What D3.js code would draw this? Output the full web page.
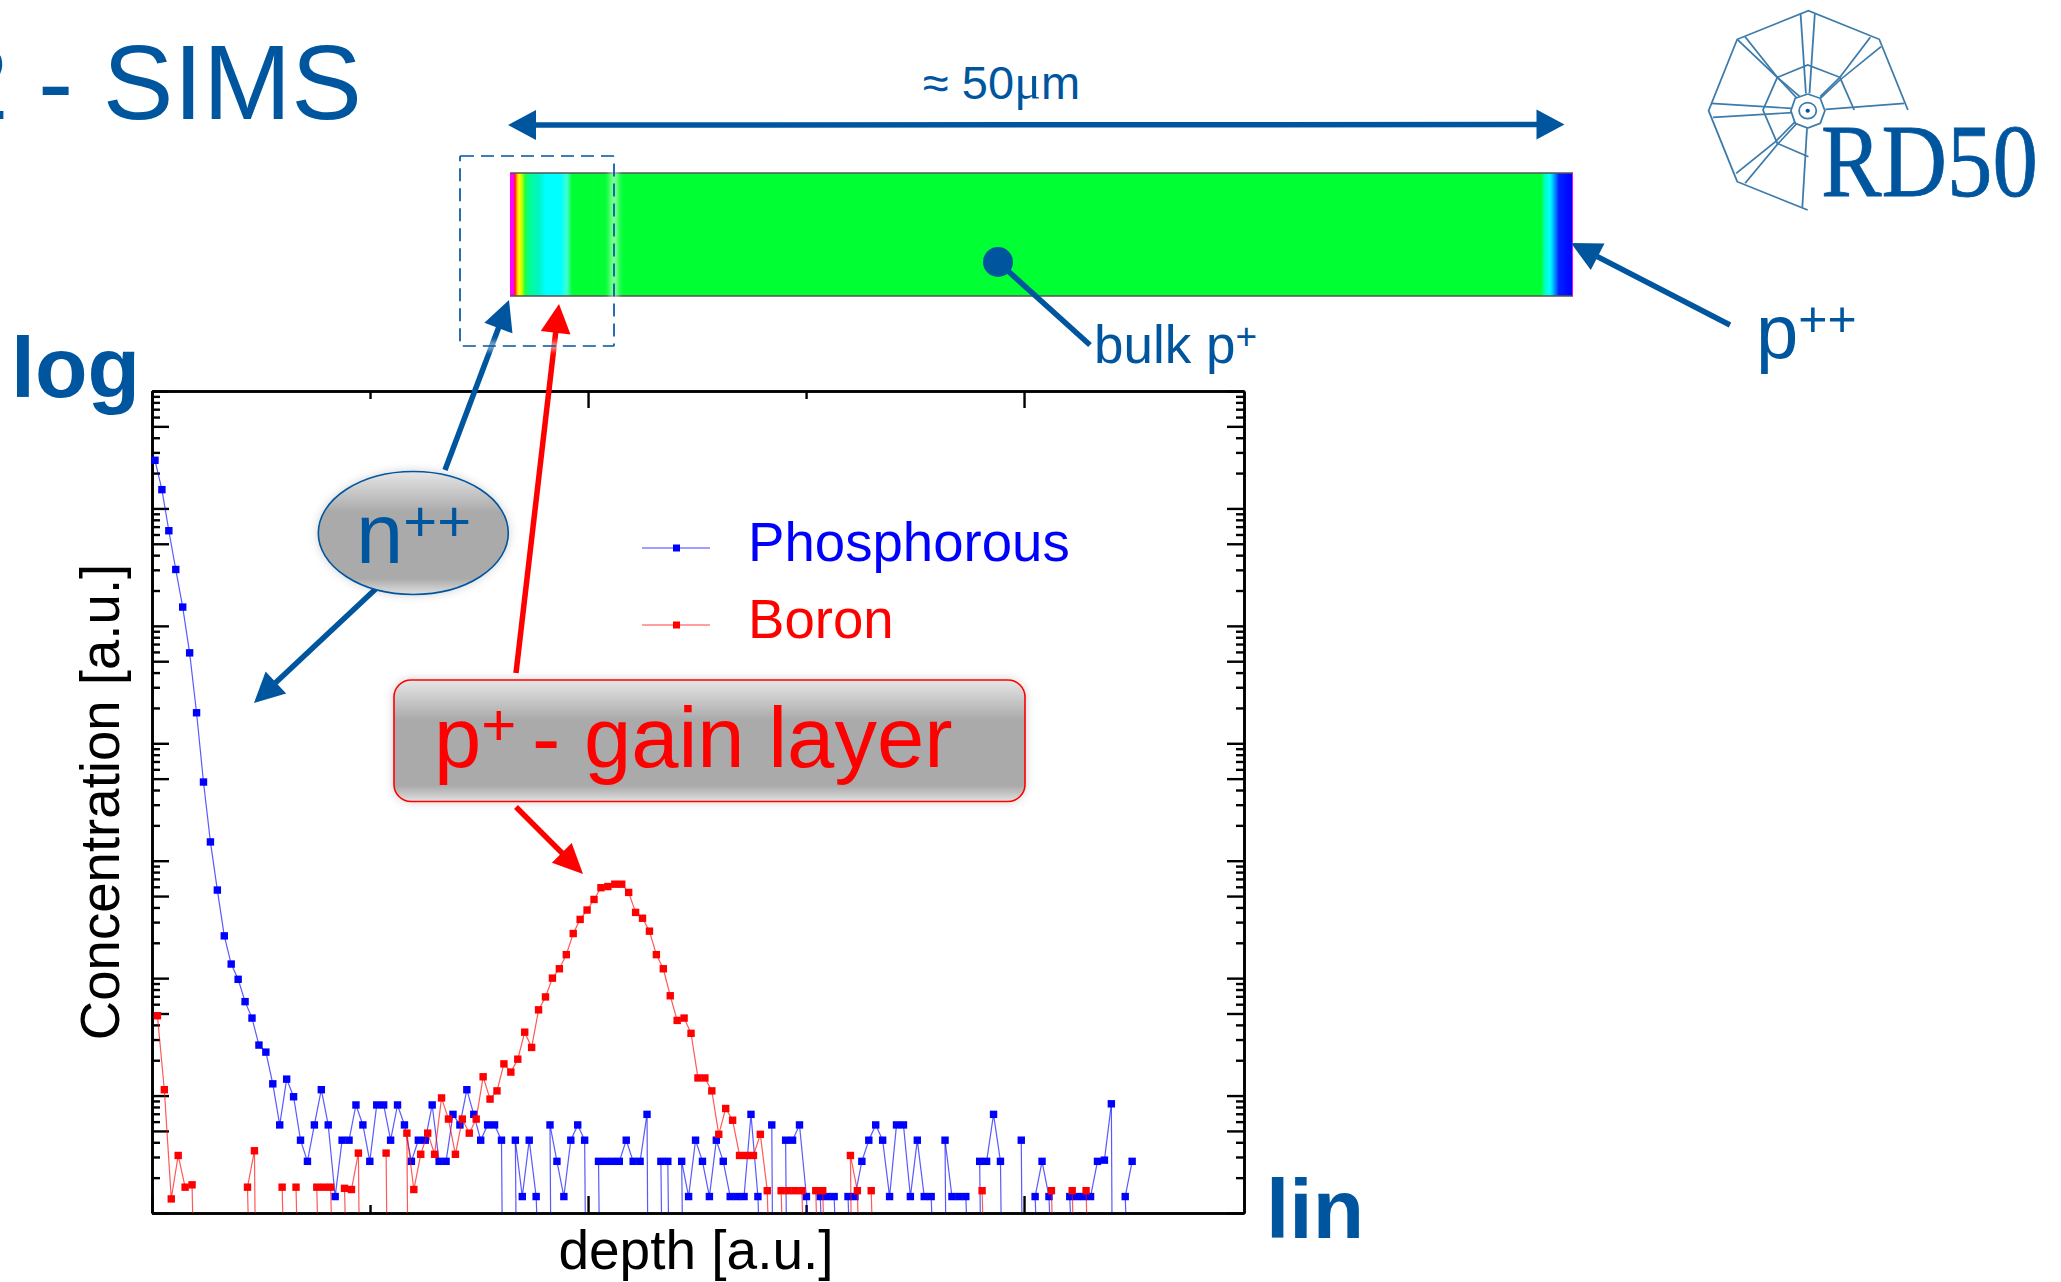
<!DOCTYPE html>
<html><head><meta charset="utf-8">
<script src="https://cdn.jsdelivr.net/npm/d3@7"></script>
<style>
html,body{margin:0;padding:0;background:#fff;overflow:hidden}
svg{display:block}
text{font-family:"Liberation Sans",Arial,sans-serif}
</style></head><body>
<svg id="c" width="2061" height="1282"></svg>
<script>
// log10 of concentration, one entry per depth step; null = below the axis (zero counts)
const phosphorousLog = [6.41,6.16,5.81,5.48,5.16,4.77,4.26,3.67,3.16,2.75,2.36,2.12,1.99,1.80,1.66,1.43,1.37,1.10,.75,1.14,
 .99,.62,.44,.75,1.05,.75,.14,.62,.62,.92,.75,.44,.92,.92,.62,.92,.75,.44,.62,.62,
 .92,.44,.44,.84,.75,1.05,.84,.62,.75,.75,.62,null,.62,.14,.62,.14,null,.75,.44,.14,
 .62,.75,.62,null,.44,.44,.44,.44,.62,.44,.44,.84,null,.44,.44,null,.44,.14,.62,.44,
 .14,.62,.44,.14,.14,.14,.84,.14,null,.75,null,.62,.62,.75,.14,null,.14,.14,.14,null,
 .14,.14,.44,.62,.75,.62,.14,.75,.75,.14,.62,.14,.14,null,.62,.14,.14,.14,null,.44,
 .44,.84,.44,null,null,.62,null,.14,.44,.14,null,null,.14,.14,.14,.14,.44,.45,.93,null,.14,.44];
const boronLog = [1.68,1.05,.12,.49,.22,.24,null,null,null,null,null,null,null,.22,.53,null,null,null,.22,null,
 .22,null,null,.22,.22,.22,null,.21,.20,.51,null,null,null,.51,null,null,.68,.20,.50,.68,
 .50,.98,.80,.50,.80,.68,.80,1.16,.97,1.04,1.27,1.20,1.31,1.54,1.41,1.73,1.84,2.00,2.08,2.20,
 2.38,2.50,2.58,2.67,2.77,2.78,2.80,2.80,2.73,2.56,2.51,2.40,2.20,2.08,1.85,1.64,1.66,1.53,1.15,1.15,
 1.04,.67,.89,.79,.49,.49,.49,.67,.19,null,.19,.19,.19,.19,null,.19,.19,null,null,null,
 .49,.19,null,.19,null,null,null,null,null,null,null,null,null,null,null,null,null,null,null,.19,
 null,null,null,null,null,null,null,null,null,.19,null,null,.19,null,.19];
const boronDepthShift = 0.35;
const seriesNames = ["Phosphorous","Boron"];
const seriesColors = ["#0000ff","#ff0000"];
const decades = [1,10,100,1e3,1e4,1e5,1e6,1e7];
const minorMult = [2,3,4,6,7,8,9];
const xMajorTicks = [-0.43,62.49,125.4];
const xMinorTicks = [31.03,93.95];
const xLabel = "depth [a.u.]";
const yLabel = "Concentration [a.u.]";

const BLUE="#00559f", RED="#ff0000";
const svg=d3.select("#c");
const defs=svg.append("defs");
function grad(id,stops){const g=defs.append("linearGradient").attr("id",id).attr("x1",0).attr("y1",0).attr("x2",0).attr("y2",1);
 stops.forEach(s=>g.append("stop").attr("offset",s[0]).attr("stop-color",s[1]));}
grad("gb",[[0,"#e6e6e6"],[.33,"#aaaaaa"],[.87,"#aaaaaa"],[1,"#e0e0e0"]]);
const BL=510,BR=1573;
const bar=defs.append("linearGradient").attr("id","bar").attr("gradientUnits","userSpaceOnUse").attr("x1",BL).attr("x2",BR).attr("y1",0).attr("y2",0);
[[510,"#ff00ff"],[513.5,"#ff00ff"],[515,"#ff2000"],[517,"#ffb000"],[519,"#ffff00"],[522,"#c0ff00"],[525,"#20ff40"],[530,"#00ff99"],[538,"#00f5c0"],[546,"#00ffff"],[561,"#00ffff"],[567,"#40ffd0"],[572,"#00ff33"],[1541,"#00ff33"],[1545,"#00ffc0"],[1550,"#00ffff"],[1553,"#00c0ff"],[1559,"#0020ff"],[1571.5,"#0000ff"],[1572.3,"#ff00ff"],[1573,"#ff00ff"]]
 .forEach(s=>bar.append("stop").attr("offset",(s[0]-BL)/(BR-BL)).attr("stop-color",s[1]));
const sh=defs.append("filter").attr("id","sh").attr("x","-10%").attr("y","-15%").attr("width","120%").attr("height","130%");
sh.append("feDropShadow").attr("dx",0).attr("dy",0).attr("stdDeviation",5).attr("flood-color","#000").attr("flood-opacity",.18);
const bl=defs.append("filter").attr("id","bl").attr("x","-10%").attr("y","-10%").attr("width","120%").attr("height","120%");
bl.append("feGaussianBlur").attr("stdDeviation",2.5);

function txt(x,y,s,size,col,o={}){const t=svg.append("text").attr("x",x).attr("y",y).attr("font-size",size).attr("fill",col).text(s);
 if(o.bold)t.attr("font-weight","bold"); if(o.anchor)t.attr("text-anchor",o.anchor);
 if(o.family)t.style("font-family",o.family); return t;}
function sup(t,s,size,rise){t.append("tspan").attr("font-size",size).attr("dy",-rise).text(s);return t;}

// ---- plot
const L=152,R=1244,T=391,B=1213;
const x=d3.scaleLinear().domain([-0.43,157.14]).range([L,R]);
const y=d3.scaleLog().domain([1,1e7]).range([B,T]);
const plot=svg.append("g");

const longY=[],shortY=[];
decades.forEach(d=>{longY.push(d); if(d<1e7){longY.push(d*5); minorMult.forEach(m=>shortY.push(d*m));}});
function axisStyle(g){g.selectAll("text").remove();g.selectAll("path.domain").attr("stroke","#000").attr("stroke-width",2.6);g.selectAll(".tick line").attr("stroke","#000").attr("stroke-width",2.4);}
const none=()=>"";
[[d3.axisRight,L,1],[d3.axisLeft,R,1]].forEach(([ax,px])=>{
 plot.append("g").attr("transform",`translate(${px},0)`).call(ax(y).tickValues(longY).tickSizeInner(17).tickSizeOuter(0).tickFormat(none)).call(axisStyle);
 plot.append("g").attr("transform",`translate(${px},0)`).call(ax(y).tickValues(shortY).tickSizeInner(8).tickSizeOuter(0).tickFormat(none)).call(axisStyle);
});
[[d3.axisTop,B],[d3.axisBottom,T]].forEach(([ax,py])=>{
 plot.append("g").attr("transform",`translate(0,${py})`).call(ax(x).tickValues(xMajorTicks).tickSizeInner(17).tickSizeOuter(0).tickFormat(none)).call(axisStyle);
 plot.append("g").attr("transform",`translate(0,${py})`).call(ax(x).tickValues(xMinorTicks).tickSizeInner(8).tickSizeOuter(0).tickFormat(none)).call(axisStyle);
});

function series(logs,shift,color){
 const data=logs.map((l,i)=>({d:i+shift,v:l===null?null:Math.pow(10,l),prev:i>0&&logs[i-1]!==null,next:i<logs.length-1&&logs[i+1]!==null,first:i===0,last:i===logs.length-1}));
 const line=d3.line().defined(p=>p.v!==null).x(p=>x(p.d)).y(p=>y(p.v));
 const g=plot.append("g");
 g.append("path").attr("d",line(data)).attr("fill","none").attr("stroke",color).attr("stroke-width",1.2).attr("stroke-opacity",.65);
 const pts=data.filter(p=>p.v!==null);
 g.selectAll("line.stem").data(pts.filter(p=>(!p.prev&&!p.first)||(!p.next&&!p.last))).enter().append("line").attr("class","stem")
  .attr("x1",p=>x(p.d)).attr("x2",p=>x(p.d)+.6).attr("y1",p=>y(p.v)).attr("y2",y(1)).attr("stroke",color).attr("stroke-width",1.2).attr("stroke-opacity",.65);
 g.selectAll("rect").data(pts).enter().append("rect").attr("x",p=>x(p.d)-3.7).attr("y",p=>y(p.v)-3.7).attr("width",7.4).attr("height",7.4).attr("fill",color);
}
series(phosphorousLog,0,seriesColors[0]);
series(boronLog,boronDepthShift,seriesColors[1]);

// axis labels
txt(696,1269,xLabel,55,"#000",{anchor:"middle"});
svg.append("text").attr("transform","translate(119,802) rotate(-90)").attr("text-anchor","middle").attr("font-size",54.6).attr("fill","#000").text(yLabel);

// legend
seriesNames.forEach((n,i)=>{
 const ly=[548,625][i], by=[561,638][i];
 svg.append("line").attr("x1",642).attr("x2",710).attr("y1",ly).attr("y2",ly).attr("stroke",seriesColors[i]).attr("stroke-width",1.2).attr("stroke-opacity",.75);
 svg.append("rect").attr("x",673).attr("y",ly-3.5).attr("width",7).attr("height",7).attr("fill",seriesColors[i]);
 txt(748,by,n,54.6,seriesColors[i]);
});

// ---- device bar
svg.append("rect").attr("x",BL).attr("y",173).attr("width",BR-BL).attr("height",123).attr("fill","url(#bar)");
svg.append("line").attr("x1",BL).attr("x2",BR).attr("y1",173).attr("y2",173).attr("stroke","#555").attr("stroke-width",1.4);
svg.append("line").attr("x1",BL).attr("x2",BR).attr("y1",296).attr("y2",296).attr("stroke","#555").attr("stroke-width",1.4);

// ---- arrows
function arrow(x0,y0,x1,y1,col,w=5.5,hl=30,hw=30,both=false){
 const a=Math.atan2(y1-y0,x1-x0),ux=Math.cos(a),uy=Math.sin(a);
 const head=(tx,ty,dx,dy)=>{const bx=tx-dx*hl,by=ty-dy*hl;
  svg.append("polygon").attr("fill",col).attr("points",`${tx},${ty} ${bx-dy*hw/2},${by+dx*hw/2} ${bx+dy*hw/2},${by-dx*hw/2}`);};
 svg.append("line").attr("x1",x0+(both?ux*hl*.8:0)).attr("y1",y0+(both?uy*hl*.8:0)).attr("x2",x1-ux*hl*.8).attr("y2",y1-uy*hl*.8).attr("stroke",col).attr("stroke-width",w);
 head(x1,y1,ux,uy); if(both)head(x0,y0,-ux,-uy);
}
arrow(508,125,1564.5,124.5,BLUE,5.5,28,30,true);
arrow(445,470,509,300,BLUE);
arrow(376.7,588,254,703,BLUE);
arrow(516,673,559,304,RED,5.5,29,30);
arrow(516,807,583,874,RED,5.5,30,28);
arrow(1730,325,1571,243,BLUE);

// dashed box with pale glow
svg.append("rect").attr("x",460).attr("y",156).attr("width",154).attr("height",190).attr("fill","none").attr("stroke","#fff").attr("stroke-width",9).attr("stroke-opacity",.5).attr("filter","url(#bl)");
svg.append("rect").attr("x",460).attr("y",156).attr("width",154).attr("height",190).attr("rx",1).attr("fill","none").attr("stroke",BLUE).attr("stroke-width",1.7).attr("stroke-dasharray","13 7");

// bulk marker
svg.append("line").attr("x1",998).attr("y1",262).attr("x2",1090).attr("y2",345).attr("stroke",BLUE).attr("stroke-width",5.5);
svg.append("circle").attr("cx",998).attr("cy",262).attr("r",15).attr("fill",BLUE);

// ---- callouts
svg.append("ellipse").attr("cx",413.3).attr("cy",533).attr("rx",95).attr("ry",61.5).attr("fill","url(#gb)").attr("stroke",BLUE).attr("stroke-width",1.6).attr("filter","url(#sh)");
sup(txt(356,563,"n",85,BLUE),"++",58,22);
svg.append("rect").attr("x",394).attr("y",680).attr("width",631).attr("height",121.5).attr("rx",17).attr("fill","url(#gb)").attr("stroke",RED).attr("stroke-width",1.6).attr("filter","url(#sh)");
const gain=txt(434,767,"p",85,RED);
gain.append("tspan").attr("font-size",60).attr("dy",-22).text("+");
gain.append("tspan").attr("x",532).attr("dy",22).text("- gain layer");

// ---- titles
txt(362,119,"2 - SIMS",106,BLUE,{anchor:"end"});
txt(11,397,"log",86,BLUE,{bold:true});
txt(1266,1238,"lin",84,BLUE,{bold:true});
const t50=txt(923,99,"≈ 50",47,BLUE);
t50.append("tspan").attr("font-size",50).style("font-family","'Liberation Serif',serif").text("μ");
t50.append("tspan").text("m");
sup(txt(1094,363,"bulk p",53,BLUE),"+",37,14);
sup(txt(1756,358,"p",76,BLUE),"++",50,22);

// ---- RD50 logo (drawn in crop units: x/2.795, y/3)
const logo=svg.append("g").attr("transform","translate(1500,0) scale(.3578,.3333)").attr("fill","none").attr("stroke","#3d7bab").attr("stroke-width",5);
const logoLines=[
 [[860,630],[663,545],[583,332],[663,118],[862,32],[1060,118],[1140,330]],
 [[775,232],[860,195],[950,232],[990,330]],
 [[775,232],[735,330],[775,430],[862,470]],
 [[663,118],[775,232],[830,295]],[[685,110],[775,232]],[[775,232],[838,290]],
 [[840,40],[855,280]],[[880,40],[865,280]],
 [[1035,112],[950,232],[895,290]],[[1065,140],[950,240],[895,295]],
 [[1130,310],[910,328]],[[590,310],[815,325]],[[595,352],[815,338]],
 [[660,520],[770,425],[825,365]],[[685,550],[778,430],[830,370]],[[858,385],[845,622]],
 [[860,282],[895,295],[908,332],[895,370],[860,384],[825,370],[813,332],[825,295],[860,282]]
];
logo.selectAll("path").data(logoLines).enter().append("path").attr("d",d3.line());
logo.append("ellipse").attr("cx",860).attr("cy",332).attr("rx",24).attr("ry",24);
logo.append("circle").attr("cx",860).attr("cy",332).attr("r",6).attr("fill",BLUE).attr("stroke","none");
svg.append("text").attr("transform","translate(1821,196) scale(.873,1)").attr("font-size",104).attr("fill",BLUE).attr("stroke",BLUE).attr("stroke-width",.8).style("font-family","'Liberation Serif',serif").text("RD50");
</script>
</body></html>
